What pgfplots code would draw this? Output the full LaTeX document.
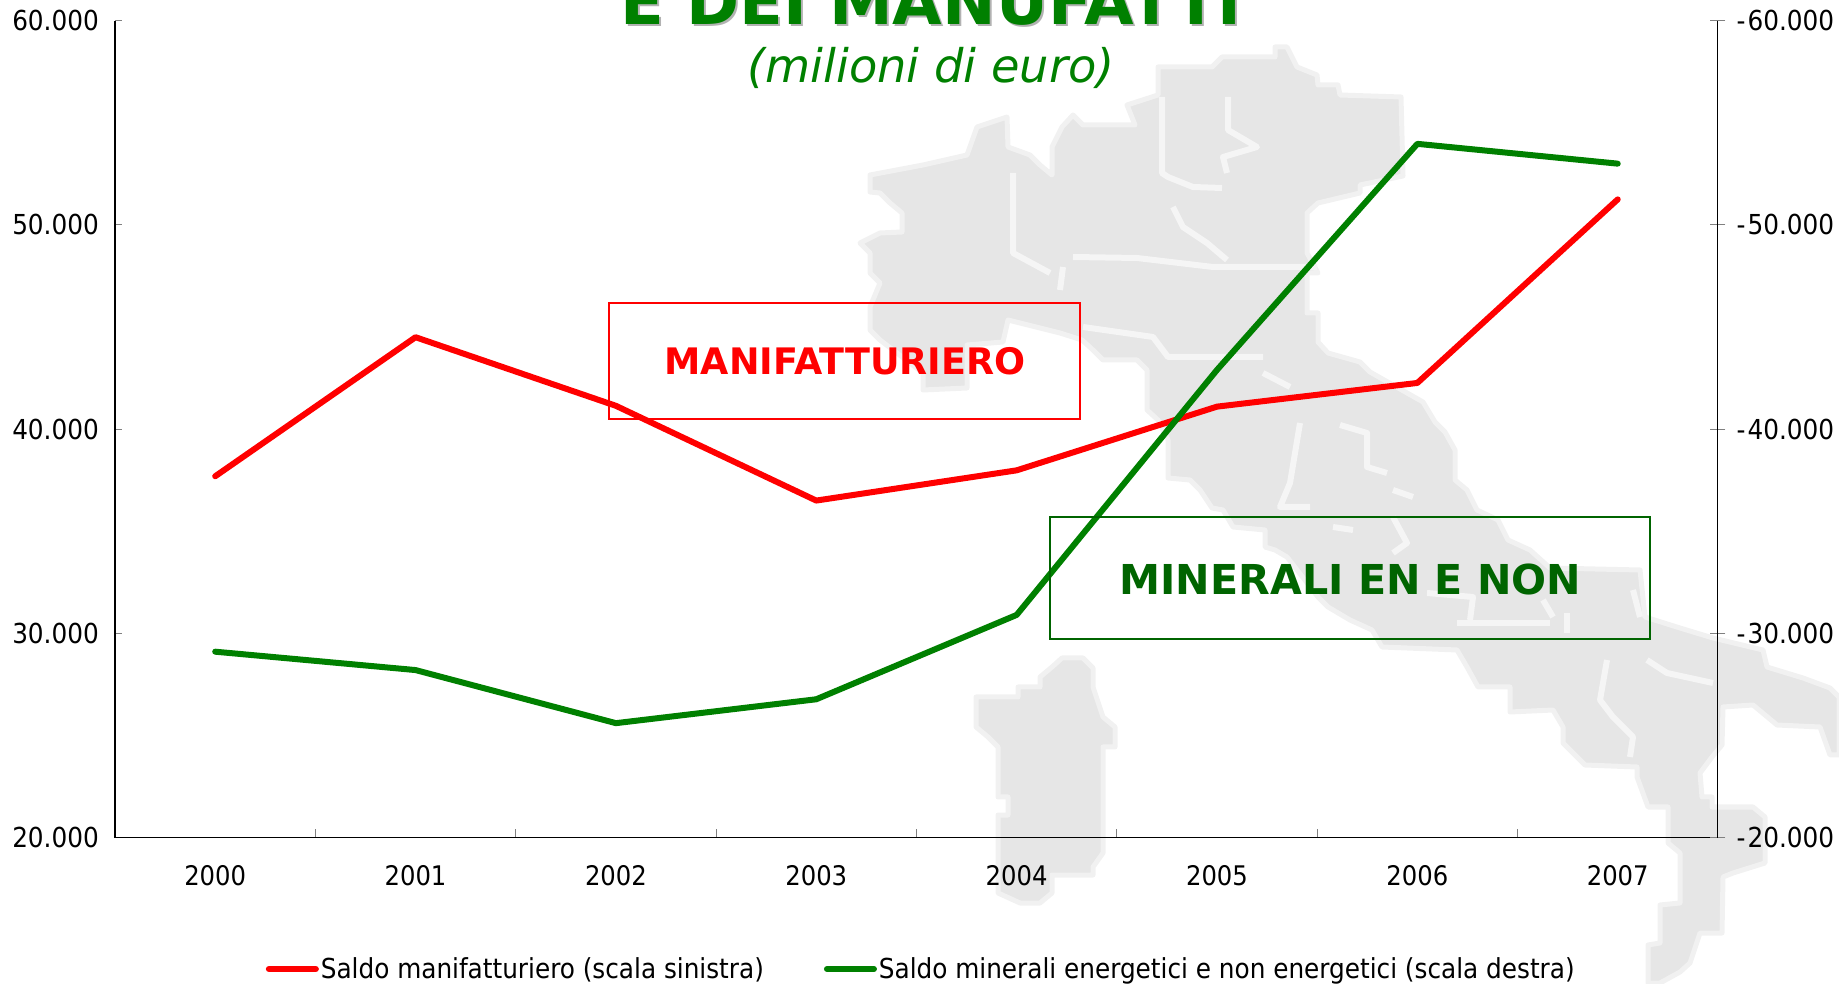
\documentclass[border=0pt]{standalone}
\usepackage{pgfplots}
\usepackage{fontspec}
\pgfplotsset{compat=1.18}
\setmainfont{DejaVu Sans}
\newfontfamily\cond{DejaVu Sans Condensed}
\definecolor{mapgray}{HTML}{E6E6E6}
\definecolor{mapedge}{HTML}{F1F1F1}
\definecolor{mapline}{HTML}{F5F5F5}
\definecolor{tickgray}{HTML}{808080}
\definecolor{lgreen}{HTML}{008000}
\definecolor{dgreen}{HTML}{006400}
\pgfplotstableread{
x y
0 37690
1 44500
2 41140
3 36500
4 37980
5 41100
6 42260
7 51250
}\manif
\pgfplotstableread{
x y
0 -29100
1 -28200
2 -25600
3 -26770
4 -30900
5 -42900
6 -53970
7 -53000
}\miner
\begin{document}
\begin{tikzpicture}[x=1pt,y=1pt]
\useasboundingbox (0,0) rectangle (1839,983);
\clip (0,0) rectangle (1839,983);
% background map of Italy, drawn in image coordinates (y down)
\begin{scope}[yscale=-1,yshift=-983pt]
\filldraw[fill=mapgray,draw=mapedge,line width=5pt,line join=round] (870,175)--(923,165)--(967,155)--(977,127)--(1007,117)--(1008,147)--(1030,155)--(1040,165)--(1052,175)--(1052,147)--(1062,127)--(1073,115)--(1083,125)--(1135,125)--(1127,105)--(1158,95)--(1158,67)--(1212,67)--(1222,57)--(1275,57)--(1275,47)--(1287,47)--(1297,67)--(1317,75)--(1318,85)--(1338,85)--(1340,95)--(1401,97)--(1403,176)--(1360,185)--(1360,193)--(1318,203)--(1307,213)--(1307,253)--(1318,273)--(1307,273)--(1307,313)--(1318,313)--(1318,342)--(1328,353)--(1360,362)--(1370,372)--(1423,402)--(1435,422)--(1445,432)--(1455,450)--(1455,480)--(1467,490)--(1477,510)--(1498,520)--(1508,540)--(1530,550)--(1550,568)--(1640,570)--(1645,617)--(1680,628)--(1713,638)--(1763,650)--(1767,667)--(1803,678)--(1830,688)--(1839,697)--(1839,755)--(1830,755)--(1820,727)--(1777,725)--(1765,715)--(1753,705)--(1723,707)--(1722,745)--(1712,757)--(1700,773)--(1702,797)--(1712,797)--(1712,807)--(1753,807)--(1765,817)--(1765,863)--(1733,873)--(1723,877)--(1722,933)--(1700,933)--(1690,963)--(1680,972)--(1660,983)--(1648,983)--(1648,945)--(1660,943)--(1660,905)--(1680,903)--(1680,853)--(1668,843)--(1668,807)--(1648,807)--(1637,777)--(1637,767)--(1585,765)--(1563,743)--(1563,727)--(1553,710)--(1510,712)--(1510,687)--(1478,687)--(1467,667)--(1457,650)--(1382,647)--(1372,630)--(1350,620)--(1328,607)--(1318,597)--(1287,557)--(1275,550)--(1265,547)--(1265,530)--(1233,527)--(1223,510)--(1212,508)--(1200,490)--(1190,480)--(1168,478)--(1168,440)--(1158,420)--(1147,410)--(1147,370)--(1137,360)--(1103,360)--(1093,350)--(1082,340)--(1060,333)--(1008,320)--(1003,342)--(967,345)--(967,388)--(923,390)--(923,373)--(880,340)--(870,330)--(870,307)--(880,283)--(870,273)--(870,253)--(860,243)--(880,233)--(902,232)--(902,213)--(890,203)--(880,193)--(870,192)--cycle;
\filldraw[fill=mapgray,draw=mapedge,line width=5pt,line join=round] (976,697)--(1018,697)--(1018,687)--(1040,687)--(1040,677)--(1052,667)--(1062,658)--(1083,658)--(1093,668)--(1093,687)--(1103,717)--(1115,727)--(1115,747)--(1103,747)--(1103,853)--(1093,867)--(1093,875)--(1052,875)--(1052,893)--(1040,903)--(1020,903)--(998,893)--(998,815)--(1008,815)--(1008,797)--(998,797)--(998,747)--(988,737)--(976,727)--cycle;
\begin{scope}[mapline,line width=6pt,line join=round]
\draw (1162,97)--(1162,173)--(1168,177)--(1193,187)--(1222,188);
\draw (1228,97)--(1228,130)--(1257,147)--(1223,157)--(1227,173);
\draw (1013,173)--(1013,253)--(1050,273);
\draw (1073,257)--(1137,258)--(1213,267)--(1317,267);
\draw (1063,267)--(1060,290);
\draw (1173,207)--(1183,227)--(1207,243)--(1227,260);
\draw (1083,327)--(1153,337)--(1168,357)--(1263,357);
\draw (1263,373)--(1290,387);
\draw (1300,423)--(1290,483)--(1280,507)--(1310,507);
\draw (1340,425)--(1367,433)--(1367,467)--(1387,473);
\draw (1393,490)--(1413,497);
\draw (1393,517)--(1407,543)--(1393,553);
\draw (1333,527)--(1353,530);
\draw (1427,593)--(1473,597)--(1470,620);
\draw (1457,623)--(1550,623);
\draw (1567,613)--(1567,633);
\draw (1543,600)--(1553,617);
\draw (1633,590)--(1640,617);
\draw (1607,660)--(1600,700)--(1613,717)--(1633,737)--(1630,757);
\draw (1647,660)--(1667,673)--(1713,683);
\end{scope}
\end{scope}
% left axis
\begin{axis}[
  at={(115pt,145.5pt)},anchor=south west,
  scale only axis,width=1603pt,height=816.8pt,
  xmin=-0.5,xmax=7.5,ymin=20000,ymax=60000,
  axis x line*=bottom,axis y line*=left,
  axis line style={-,black,line width=1.1pt},
  xtick={0,1,2,3,4,5,6,7},
  xticklabels={2000,2001,2002,2003,2004,2005,2006,2007},
  minor xtick={-0.5,0.5,1.5,2.5,3.5,4.5,5.5,6.5,7.5},
  ytick={20000,30000,40000,50000,60000},
  yticklabels={20.000,30.000,40.000,50.000,60.000},
  major tick length=7pt,minor tick length=8pt,
  x tick style={draw=none},
  minor x tick style={draw=tickgray,line width=1.1pt},
  y tick style={draw=tickgray,line width=1.1pt},
  tick label style={font=\cond\fontsize{27.5}{31}\selectfont,text=black,inner sep=0pt},
  xticklabel style={font=\cond\fontsize{27}{31}\selectfont,anchor=base,yshift=-48pt},
  yticklabel style={anchor=east,xshift=-16pt},
  clip=false,
]
\addplot[red,line width=6pt,line cap=round,line join=round] table[x=x,y=y]{\manif};
\end{axis}
% right axis
\begin{axis}[
  at={(115pt,145.5pt)},anchor=south west,
  scale only axis,width=1603pt,height=816.8pt,
  xmin=-0.5,xmax=7.5,ymin=-60000,ymax=-20000,
  y dir=reverse,
  axis x line=none,axis y line*=right,
  axis line style={-,black,line width=1.1pt},
  ytick={-60000,-50000,-40000,-30000,-20000},
  yticklabels={-\kern2pt 60.000,-\kern2pt 50.000,-\kern2pt 40.000,-\kern2pt 30.000,-\kern2pt 20.000},
  tick align=center,major tick length=15pt,
  y tick style={draw=tickgray,line width=1.1pt},
  tick label style={font=\cond\fontsize{27.5}{31}\selectfont,text=black,inner sep=0pt},
  yticklabel style={anchor=west,xshift=11pt},
  clip=false,
  legend style={
    at={(0.503,-0.161)},anchor=center,draw=none,fill=none,
    font=\cond\fontsize{27.5}{31}\selectfont,
    legend columns=2,inner sep=0pt,
    /tikz/every even column/.append style={column sep=58pt},
    nodes={inner sep=2pt},
  },
  legend image code/.code={\draw[#1] (0pt,0pt)--(47pt,0pt);},
]
\addlegendimage{red,line width=6pt,line cap=round}
\addlegendentry{Saldo manifatturiero (scala sinistra)}
\addplot[lgreen,line width=6pt,line cap=round,line join=round] table[x=x,y=y]{\miner};
\addlegendentry{Saldo minerali energetici e non energetici (scala destra)}
\end{axis}
% boxes and titles
\draw[red,line width=1.4pt] (609,680) rectangle (1080,564);
\draw[dgreen,line width=1.4pt] (1050,466) rectangle (1650,344);
\node[anchor=base,text=red,inner sep=0pt,font=\bfseries\fontsize{36.5}{40}\selectfont] at (845,608) {MANIFATTURIERO};
\node[anchor=base,text=dgreen,inner sep=0pt,font=\bfseries\fontsize{41.2}{46}\selectfont] at (1350.5,388) {MINERALI EN E NON};
\node[anchor=base,text=black!30,inner sep=0pt,font=\bfseries\fontsize{64}{70}\selectfont] at (933,956) {E DEI MANUFATTI};
\node[anchor=base,text=lgreen,inner sep=0pt,font=\bfseries\fontsize{64}{70}\selectfont] at (931,958) {E DEI MANUFATTI};
\node[anchor=base,text=lgreen,inner sep=0pt,font=\itshape\fontsize{46.3}{52}\selectfont] at (931,900) {(milioni di euro)};
\end{tikzpicture}
\end{document}
